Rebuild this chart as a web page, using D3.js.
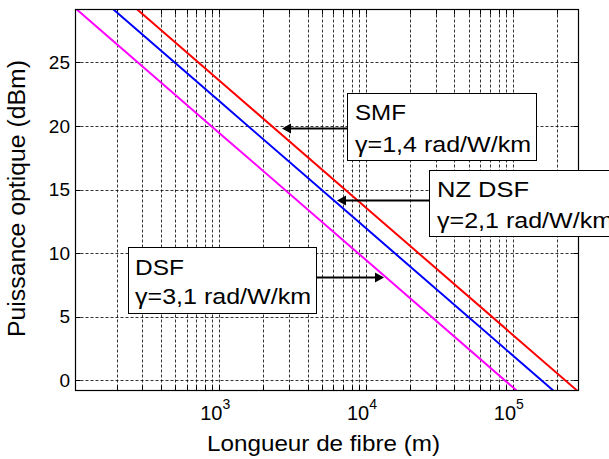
<!DOCTYPE html>
<html><head><meta charset="utf-8">
<script src="https://cdn.jsdelivr.net/npm/d3@7"></script>
<style>
html,body{margin:0;padding:0;background:#fff;}
svg{display:block;font-family:"Liberation Sans",Arial,sans-serif;}
</style></head>
<body>
<svg id="chart" width="609" height="459"></svg>
<script>
// ---- data ----
const lengths = [100, 1000, 10000, 100000, 300000];
const smf   = [33.57, 23.57, 13.57, 3.57, -1.2];
const nzdsf = [31.95, 21.95, 11.95, 1.95, -2.82];
const dsf   = [29.45, 19.45, 9.45, -0.55, -5.32];
const seriesNames = ["SMF", "NZ DSF", "DSF"];
const seriesColors = ["#ff0000", "#0000ff", "#ff00ff"];
const yTicks = [0, 5, 10, 15, 20, 25];
const xMajor = [1000, 10000, 100000];
const xMajorExp = ["3", "4", "5"];
const annotations = [
  {name: "SMF", gamma: "γ=1,4 rad/W/km"},
  {name: "NZ DSF", gamma: "γ=2,1 rad/W/km"},
  {name: "DSF", gamma: "γ=3,1 rad/W/km"}
];

// ---- layout ----
const L = 75.5, R = 578.5, T = 9.5, B = 390.5;
const svg = d3.select("#chart");
const x = d3.scaleLog().domain([105, 2.8e5]).range([L, R]);
const y = d3.scaleLinear().domain([-0.8, 29.15]).range([B, T]);

const xGrid = [];
for (let e = 2; e <= 5; e++) for (let m = 1; m <= 9; m++) {
  const v = m * Math.pow(10, e);
  if (v > 105 && v < 2.8e5) xGrid.push(v);
}

const grid = svg.append("g").attr("stroke", "#000").attr("stroke-width", 0.8)
  .attr("stroke-dasharray", "3,2");
grid.selectAll(".vx").data(xGrid).join("line")
  .attr("x1", d => Math.round(x(d)) + 0.5).attr("x2", d => Math.round(x(d)) + 0.5)
  .attr("y1", T).attr("y2", B);
grid.selectAll(".hy").data(yTicks).join("line")
  .attr("y1", d => Math.round(y(d)) + 0.5).attr("y2", d => Math.round(y(d)) + 0.5)
  .attr("x1", L).attr("x2", R);

const ticks = svg.append("g").attr("stroke", "#000").attr("stroke-width", 1);
xGrid.forEach(v => {
  const px = Math.round(x(v)) + 0.5;
  ticks.append("line").attr("x1", px).attr("x2", px).attr("y1", B).attr("y2", B - 5);
  ticks.append("line").attr("x1", px).attr("x2", px).attr("y1", T).attr("y2", T + 5);
});
yTicks.forEach(v => {
  const py = Math.round(y(v)) + 0.5;
  ticks.append("line").attr("x1", L).attr("x2", L + 5).attr("y1", py).attr("y2", py);
  ticks.append("line").attr("x1", R).attr("x2", R - 5).attr("y1", py).attr("y2", py);
});

svg.append("clipPath").attr("id", "clip").append("rect")
  .attr("x", L).attr("y", T).attr("width", R - L).attr("height", B - T);
const line = d3.line().x(d => x(d[0])).y(d => y(d[1]));
[smf, nzdsf, dsf].forEach((s, i) => {
  svg.append("path").attr("clip-path", "url(#clip)")
    .datum(lengths.map((l, j) => [l, s[j]]))
    .attr("d", line).attr("fill", "none")
    .attr("stroke", seriesColors[i]).attr("stroke-width", 2);
});

svg.append("rect").attr("x", L).attr("y", T).attr("width", R - L).attr("height", B - T)
  .attr("fill", "none").attr("stroke", "#000").attr("stroke-width", 1.2);

svg.append("g").selectAll("text").data(yTicks).join("text")
  .attr("x", 70).attr("y", d => y(d)).attr("dy", "0.35em")
  .attr("text-anchor", "end").attr("font-size", 19).text(d => d);

const xl = svg.append("g").selectAll("text").data(xMajor).join("text")
  .attr("x", d => x(d) - 4).attr("y", 420).attr("text-anchor", "middle").attr("font-size", 20);
xl.append("tspan").text("10");
xl.append("tspan").attr("dy", -11).attr("font-size", 14).text((d, i) => xMajorExp[i]);

svg.append("text").attr("x", 207).attr("y", 451)
  .attr("font-size", 22).attr("textLength", 233).attr("lengthAdjust", "spacingAndGlyphs")
  .text("Longueur de fibre (m)");
svg.append("text").attr("transform", `translate(25,337) rotate(-90)`)
  .attr("font-size", 23).attr("textLength", 277).attr("lengthAdjust", "spacingAndGlyphs")
  .text("Puissance optique (dBm)");

const boxes = [
  {bx: 347.5, by: 93.5, bw: 189, bh: 67, tx: 355, ty1: 120, ty2: 151.5,
   ax1: 347.5, ax2: 282, ay: 128.5, w1: 51, w2: 176},
  {bx: 429.5, by: 170.5, bw: 200, bh: 66, tx: 437, ty1: 197, ty2: 228,
   ax1: 429.5, ax2: 337, ay: 200.5, w1: 92, w2: 176},
  {bx: 128.5, by: 247.5, bw: 188, bh: 66, tx: 135, ty1: 275, ty2: 304,
   ax1: 316.5, ax2: 384, ay: 277.5, w1: 49, w2: 176}
];
boxes.forEach((b, i) => {
  const g = svg.append("g");
  const dir = b.ax2 > b.ax1 ? 1 : -1;
  const base = b.ax2 - dir * 9;
  g.append("line").attr("x1", b.ax1).attr("x2", base).attr("y1", b.ay).attr("y2", b.ay)
    .attr("stroke", "#000").attr("stroke-width", 2);
  g.append("path")
    .attr("d", `M${b.ax2},${b.ay} L${base},${b.ay - 5} L${base},${b.ay + 5} Z`)
    .attr("fill", "#000");
  g.append("rect").attr("x", b.bx).attr("y", b.by).attr("width", b.bw).attr("height", b.bh)
    .attr("fill", "#fff").attr("stroke", "#000").attr("stroke-width", 1);
  g.append("text").attr("x", b.tx).attr("y", b.ty1).attr("font-size", 22)
    .attr("textLength", b.w1).attr("lengthAdjust", "spacingAndGlyphs").text(annotations[i].name);
  g.append("text").attr("x", b.tx).attr("y", b.ty2).attr("font-size", 22)
    .attr("textLength", b.w2).attr("lengthAdjust", "spacingAndGlyphs").text(annotations[i].gamma);
});
</script>
</body></html>
